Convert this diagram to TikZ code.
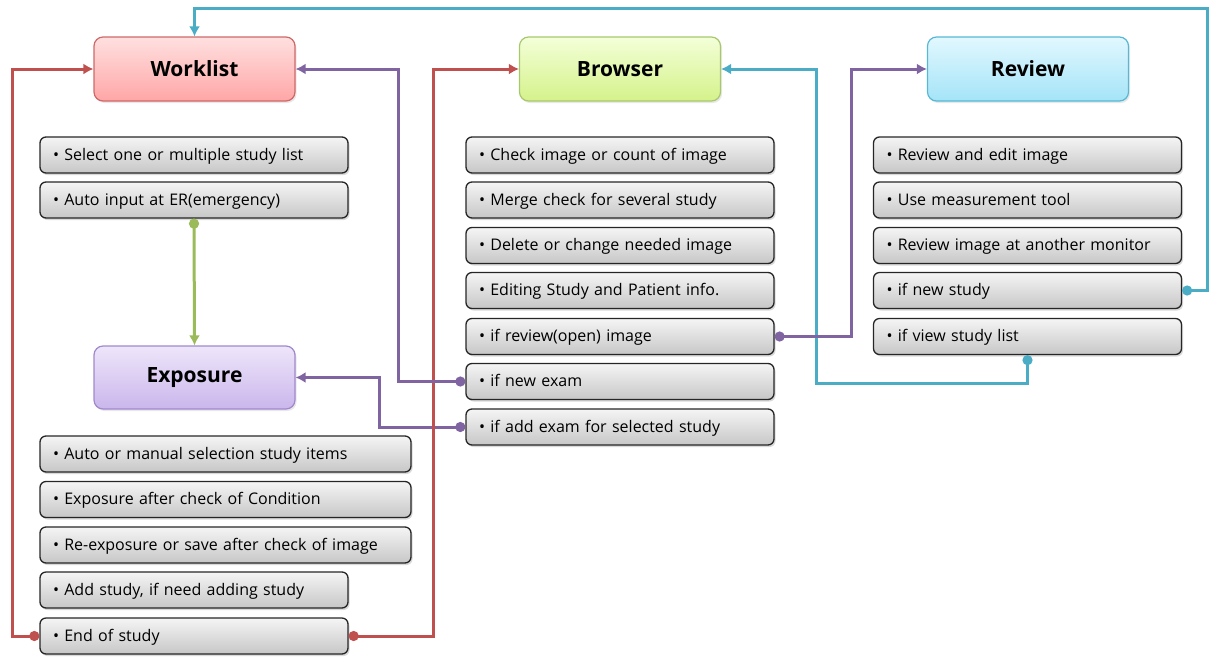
\documentclass[tikz,border=0pt]{standalone}
\usepackage{fontspec}
\setmainfont{Open Sans}
\usetikzlibrary{shadows,arrows.meta}
\definecolor{cred}{HTML}{C0504D}
\definecolor{cpur}{HTML}{8064A2}
\definecolor{ccyan}{HTML}{4BACC6}
\definecolor{cgreen}{HTML}{9BBB59}
\definecolor{wlT}{HTML}{FFE0E0}\definecolor{wlB}{HTML}{FFA6A6}\definecolor{wlD}{HTML}{D06868}
\definecolor{brT}{HTML}{F4FFD8}\definecolor{brB}{HTML}{D4F28A}\definecolor{brD}{HTML}{A8C870}
\definecolor{rvT}{HTML}{E2F8FE}\definecolor{rvB}{HTML}{A4E4F8}\definecolor{rvD}{HTML}{58B8D4}
\definecolor{exT}{HTML}{EEE6FA}\definecolor{exB}{HTML}{CAB6EC}\definecolor{exD}{HTML}{A088CC}
\tikzset{
  head/.style n args={3}{draw=#1, line width=1.2pt, rounded corners=9pt,
    top color=#2, bottom color=#3, minimum width=201pt, minimum height=64pt,
    font=\fontsize{21}{24}\selectfont\bfseries,
    drop shadow={shadow xshift=1.5pt, shadow yshift=-2pt, opacity=0.18}},
  item/.style={draw=black!85, line width=1.3pt, rounded corners=6pt,
    top color=black!4, bottom color=black!22, minimum height=36pt,
    inner xsep=13pt, text width=#1-26pt, align=left,
    text height=13pt, text depth=3pt,
    font=\fontsize{16}{18}\selectfont,
    drop shadow={shadow xshift=1.5pt, shadow yshift=-2pt, opacity=0.3}},
  item/.default=308pt,
  conn/.style={line width=3pt, draw=#1,
    {Circle[length=10pt]}-{Latex[length=10pt,width=11pt]}}
}
\begin{document}
\begin{tikzpicture}[x=1pt,y=-1pt]
\useasboundingbox (0,0) rectangle (1210,657);
% headers
\node[head={wlD}{wlT}{wlB}] (wl) at (194.5,69) {Worklist};
\node[head={brD}{brT}{brB}] (br) at (620,69) {Browser};
\node[head={rvD}{rvT}{rvB}] (rv) at (1028,69) {Review};
\node[head={exD}{exT}{exB}, minimum height=63pt] (ex) at (194.5,377.5) {Exposure};
% worklist items
\node[item] (wl1) at (194,155) {• Select one or multiple study list};
\node[item] (wl2) at (194,200) {• Auto input at ER(emergency)};
% browser items
\node[item] (br1) at (620,155) {• Check image or count of image};
\node[item] (br2) at (620,200) {• Merge check for several study};
\node[item] (br3) at (620,245.5) {• Delete or change needed image};
\node[item] (br4) at (620,290.5) {• Editing Study and Patient info.};
\node[item] (br5) at (620,336.5) {• if review(open) image};
\node[item] (br6) at (620,381.5) {• if new exam};
\node[item] (br7) at (620,427) {• if add exam for selected study};
% review items
\node[item] (rv1) at (1027.5,155) {• Review and edit image};
\node[item] (rv2) at (1027.5,200) {• Use measurement tool};
\node[item] (rv3) at (1027.5,245.5) {• Review image at another monitor};
\node[item] (rv4) at (1027.5,290.5) {• if new study};
\node[item] (rv5) at (1027.5,336.5) {• if view study list};
% exposure items
\node[item=371pt] (ex1) at (225.5,454) {• Auto or manual selection study items};
\node[item=371pt] (ex2) at (225.5,499.5) {• Exposure after check of Condition};
\node[item=371pt] (ex3) at (225.5,545) {• Re-exposure or save after check of image};
\node[item] (ex4) at (194,590) {• Add study, if need adding study};
\node[item] (ex5) at (194,636) {• End of study};
% helper coordinates
\coordinate (topright) at (1207,8);
\coordinate (redL) at (12,300);
\coordinate (redR) at (433,300);
\coordinate (purA) at (398,300);
\coordinate (purB) at (379,400);
\coordinate (purC) at (851,200);
\coordinate (cyB) at (816,383);
% connectors
\draw[conn=cgreen] (wl2.south) -- (ex.north);
\draw[conn=ccyan] (rv5.south) |- (cyB) |- (br.east);
\draw[conn=cpur] (br5.east) -| (purC) |- (rv.west);
\draw[conn=cpur] (br7.west) -| (purB) |- (ex.east);
\draw[conn=cred] (ex5.east) -| (redR) |- (br.west);
\draw[conn=cpur] (br6.west) -| (purA) |- (wl.east);
\draw[conn=cred] (ex5.west) -| (redL) |- (wl.west);
\draw[conn=ccyan] (rv4.east) -| (topright) -| (wl.north);
\end{tikzpicture}
\end{document}
